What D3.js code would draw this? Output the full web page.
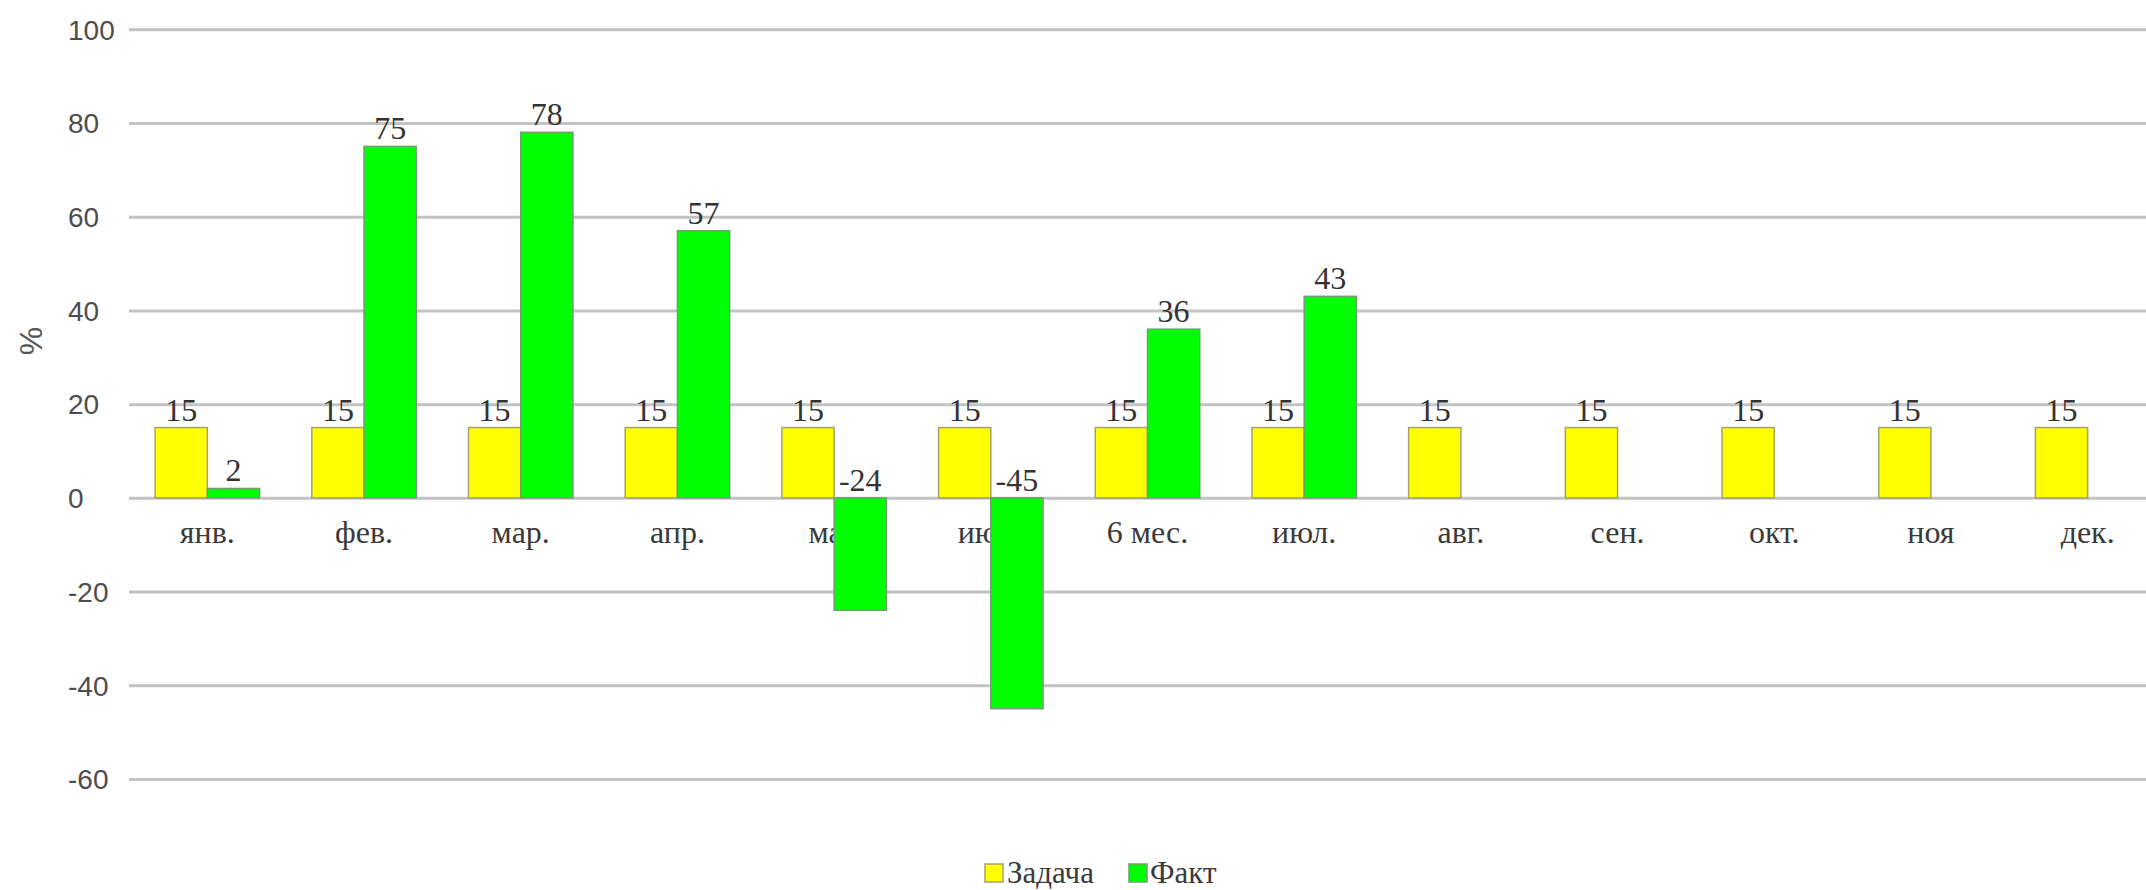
<!DOCTYPE html>
<html>
<head>
<meta charset="utf-8">
<script src="https://cdn.jsdelivr.net/npm/d3@7"></script>
<style>
  html, body { margin: 0; padding: 0; background: #fff; }
  svg { display: block; }
</style>
</head>
<body>
<svg id="chart" width="2146" height="890"></svg>
<script>
const categories = ["янв.", "фев.", "мар.", "апр.", "май", "июн.", "6 мес.", "июл.", "авг.", "сен.", "окт.", "ноя", "дек."];
const seriesNames = ["Задача", "Факт"];
const taskValues = [15, 15, 15, 15, 15, 15, 15, 15, 15, 15, 15, 15, 15];
const factValues = [2, 75, 78, 57, -24, -45, 36, 43, null, null, null, null, null];
const yTicks = [100, 80, 60, 40, 20, 0, -20, -40, -60];
const yTitle = "%";
const colors = ["#FFFF00", "#00FF00"];

const svg = d3.select("#chart");
const plotLeft = 129, plotRight = 2166, plotTop = 29.25, plotBottom = 779;

const x0 = d3.scaleBand().domain(categories).range([plotLeft, plotRight]).paddingInner(0).paddingOuter(0);
const bw = x0.bandwidth();
const x1 = d3.scaleBand().domain(seriesNames).range([bw / 6, bw * 5 / 6]).padding(0);
const y = d3.scaleLinear().domain([-60, 100]).range([plotBottom, plotTop]);

// gridlines + y tick labels
const yAxis = d3.axisLeft(y).tickValues(yTicks).tickSize(-(plotRight - plotLeft)).tickFormat(d => String(d));
const gy = svg.append("g").attr("transform", `translate(${plotLeft},0)`).call(yAxis);
gy.select(".domain").remove();
gy.selectAll(".tick line").attr("stroke", "#c3c3c3").attr("stroke-width", 3);
gy.selectAll(".tick text")
  .attr("x", 68 - plotLeft)
  .attr("dy", "0.35em")
  .attr("text-anchor", "start")
  .attr("fill", "#4d4d4d")
  .style("font-family", "'Liberation Sans', Arial, sans-serif")
  .style("font-size", "28px");

// y-axis title
svg.append("text")
  .attr("transform", `translate(31,341) rotate(-90)`)
  .attr("text-anchor", "middle")
  .attr("dy", "0.35em")
  .attr("fill", "#555")
  .style("font-family", "'Liberation Sans', Arial, sans-serif")
  .style("font-size", "32px")
  .text(yTitle);

// x category labels (drawn before bars so bars cover them)
svg.append("g").selectAll("text").data(categories).join("text")
  .attr("x", d => x0(d) + bw / 2)
  .attr("y", 543)
  .attr("text-anchor", "middle")
  .attr("fill", "#3a3a3a")
  .style("font-family", "'Liberation Serif', 'Times New Roman', serif")
  .style("font-size", "32px")
  .text(d => d);

// bars
const rows = categories.map((c, i) => ({ cat: c, vals: [taskValues[i], factValues[i]] }));
const groups = svg.append("g").selectAll("g").data(rows).join("g")
  .attr("transform", d => `translate(${x0(d.cat)},0)`);

groups.selectAll("rect")
  .data(d => d.vals.map((v, j) => ({ s: seriesNames[j], v, j })).filter(e => e.v !== null))
  .join("rect")
  .attr("x", d => x1(d.s))
  .attr("width", x1.bandwidth())
  .attr("y", d => Math.min(y(d.v), y(0)))
  .attr("height", d => Math.abs(y(d.v) - y(0)))
  .attr("fill", d => colors[d.j])
  .attr("stroke", d => d.j === 0 ? "#a3a36a" : "#6f9f6f")
  .attr("stroke-width", 1.5);

// data labels
groups.selectAll("text")
  .data(d => d.vals.map((v, j) => ({ s: seriesNames[j], v, j })).filter(e => e.v !== null))
  .join("text")
  .attr("x", d => x1(d.s) + x1.bandwidth() / 2)
  .attr("y", d => Math.min(y(d.v), y(0)) - 7)
  .attr("text-anchor", "middle")
  .attr("fill", "#333")
  .style("font-family", "'Liberation Serif', 'Times New Roman', serif")
  .style("font-size", "32px")
  .text(d => d.v);

// legend
const legend = svg.append("g");
const legendItems = [
  { name: seriesNames[0], color: colors[0], sx: 985, tx: 1007, stroke: "#a3a36a" },
  { name: seriesNames[1], color: colors[1], sx: 1129, tx: 1150, stroke: "#6f9f6f" }
];
legend.selectAll("rect").data(legendItems).join("rect")
  .attr("x", d => d.sx).attr("y", 864).attr("width", 18).attr("height", 18)
  .attr("fill", d => d.color).attr("stroke", d => d.stroke).attr("stroke-width", 1.5);
legend.selectAll("text").data(legendItems).join("text")
  .attr("x", d => d.tx).attr("y", 883)
  .attr("fill", "#3a3a3a")
  .style("font-family", "'Liberation Serif', 'Times New Roman', serif")
  .style("font-size", "31px")
  .text(d => d.name);
</script>
</body>
</html>
